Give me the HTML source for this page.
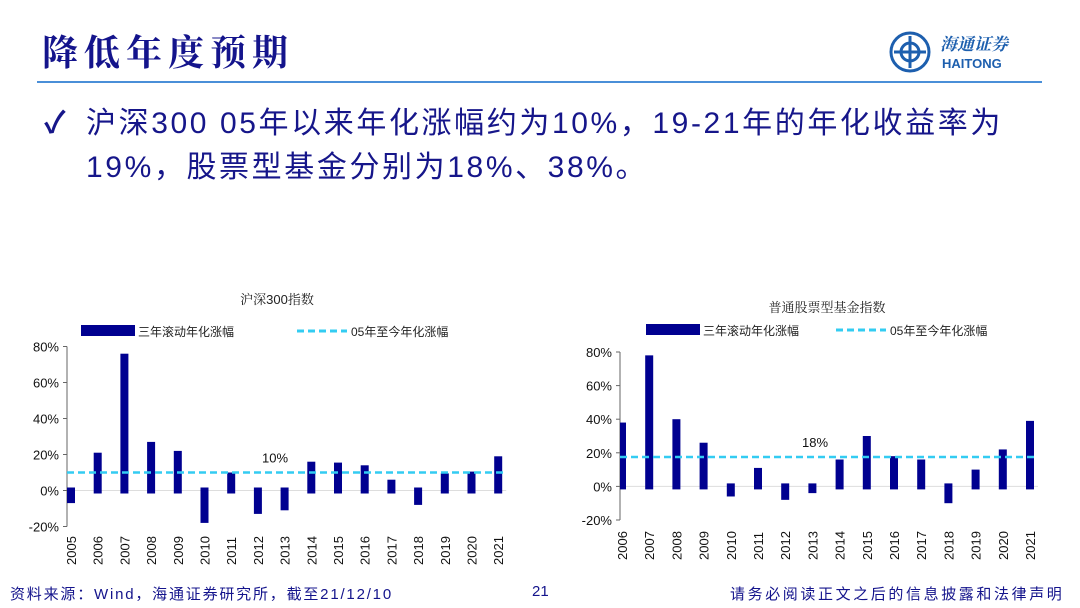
<!DOCTYPE html>
<html><head><meta charset="utf-8">
<style>
body{margin:0;width:1080px;height:608px;background:#fff;position:relative;overflow:hidden;font-family:"Liberation Sans","Noto Sans CJK SC",sans-serif}
.abs{position:absolute}
#title{left:42px;top:25px;font-size:36px;color:#14148c;font-family:"Liberation Sans","Noto Serif CJK SC",serif;font-weight:bold;letter-spacing:6px}
#hline{left:37px;top:81px;width:1005px;height:2px;background:#4a8fd8}
.txt{color:#16168a;font-size:30px;letter-spacing:2.6px;white-space:nowrap}
#foot span{position:absolute;font-size:15px;color:#14148c;white-space:nowrap;top:583px}
</style></head><body>
<div id="title" class="abs">降低年度预期</div>
<div id="hline" class="abs"></div>
<div class="abs" style="left:888px;top:30px;width:160px;height:45px">
<svg width="160" height="45"><circle cx="22" cy="22" r="19" fill="none" stroke="#1d5fae" stroke-width="3"/><circle cx="22" cy="22" r="9" fill="none" stroke="#1d5fae" stroke-width="3"/><path d="M22 6v32M6 22h32" stroke="#1d5fae" stroke-width="3"/>
<text x="52" y="20" font-size="17" fill="#1d5fae" font-family="Noto Serif CJK SC,serif" font-weight="bold" font-style="italic">海通证券</text>
<text x="54" y="38" font-size="13" fill="#1d5fae" font-weight="bold" font-family="Liberation Sans,sans-serif">HAITONG</text></svg></div>
<div class="abs txt" style="left:44px;top:98px;font-weight:bold">✓</div>
<div class="abs txt" style="left:86px;top:98px">沪深300 05年以来年化涨幅约为10%，19-21年的年化收益率为</div>
<div class="abs txt" style="left:86px;top:142px">19%，股票型基金分别为18%、38%。</div>
<svg class="abs" style="left:0;top:0" width="1080" height="608" id="charts"></svg>
<div id="foot">
<span style="left:10px;letter-spacing:1.8px">资料来源：Wind，海通证券研究所，截至21/12/10</span>
<span style="left:532px">21</span>
<span style="left:730px;letter-spacing:2.6px">请务必阅读正文之后的信息披露和法律声明</span>
</div>
<script>
const yearsA=["2005","2006","2007","2008","2009","2010","2011","2012","2013","2014","2015","2016","2017","2018","2019","2020","2021"];
const valuesA=[-7,21,76,27,22,-18,10,-13,-11,16,15.5,14,6,-8,9.5,10.5,19];
const avgA=10;
const yearsB=["2006","2007","2008","2009","2010","2011","2012","2013","2014","2015","2016","2017","2018","2019","2020","2021"];
const valuesB=[38,78,40,26,-6,11,-8,-4,16,30,18,16,-10,10,22,39];
const avgB=17.5;
const ticks=[80,60,40,20,0,-20];
const NS="http://www.w3.org/2000/svg";
const svg=document.getElementById('charts');
function mk(t,a,txt){const e=document.createElementNS(NS,t);for(const k in a)e.setAttribute(k,a[k]);if(txt!=null)e.textContent=txt;svg.appendChild(e);return e;}
function chart(o){
 const y=v=>o.y0+(o.top-o.y0)*v/80;
 const x=i=>o.x0+i*o.step;
 let e=mk('text',{x:o.tx,y:o.ty,'font-size':13,'text-anchor':'middle',fill:'#222','font-family':'Liberation Sans,Noto Serif CJK SC,serif'},o.title);
 
 
 e=mk('rect',{x:o.lx,y:o.ly-6,width:54,height:11,fill:'#000090'});
 
 
 mk('text',{x:o.lx+57,y:o.ly+5,'font-size':12,fill:'#222'},'三年滚动年化涨幅');
 e=mk('line',{x1:o.lx2,y1:o.ly,x2:o.lx2+50,y2:o.ly,stroke:'#33ccf2','stroke-width':3,'stroke-dasharray':'7,4'});
 
 
 mk('text',{x:o.lx2+54,y:o.ly+5,'font-size':12,fill:'#222'},'05年至今年化涨幅');
 mk('line',{x1:o.ax,y1:y(80),x2:o.ax,y2:y(-20),stroke:'#666','stroke-width':1});
 mk('line',{x1:o.ax,y1:y(0),x2:x(o.years.length-1)+8,y2:y(0),stroke:'#ddd','stroke-width':1});
 ticks.forEach(t=>{mk('line',{x1:o.ax-4,y1:y(t),x2:o.ax,y2:y(t),stroke:'#666'});
  const tt=mk('text',{x:o.ax-8,y:y(t)+5,'font-size':13,'text-anchor':'end',fill:'#111'},t+'%');
  
  });
 o.vals.forEach((v,i)=>{
  const cx=x(i);let top=v>=0?y(v):y(0)-3,bot=v>=0?y(0)+3:y(v);
  let lx=cx-4,w=8; if(lx<o.ax){w-=o.ax-lx;lx=o.ax;}
  const r=mk('rect',{x:lx,y:top,width:w,height:bot-top,fill:'#000090'});
  
  
  const l=mk('text',{transform:`translate(${cx+5},${o.lyear}) rotate(-90)`,'font-size':13,fill:'#111'},o.years[i]);
  
  
 });
 e=mk('line',{x1:o.ax,y1:y(o.avg),x2:x(o.years.length-1)+6,y2:y(o.avg),stroke:'#33ccf2','stroke-width':2.5,'stroke-dasharray':'7,4'});
 
 
 e=mk('text',{x:o.ax+o.labX,y:y(o.avg)-10,'font-size':13,'text-anchor':'middle',fill:'#111'},Math.round(o.avg)+'%');
 
 
}
chart({title:'沪深300指数',tx:277,ty:304,lx:81,ly:331,lx2:297,x0:71,step:26.7,ax:67,y0:490.5,top:346.5,years:yearsA,vals:valuesA,avg:avgA,lyear:565,labX:208});
chart({title:'普通股票型基金指数',tx:827,ty:312,lx:646,ly:330,lx2:836,x0:622,step:27.2,ax:620,y0:486.4,top:352,years:yearsB,vals:valuesB,avg:avgB,lyear:560,labX:195});
</script>
</body></html>
